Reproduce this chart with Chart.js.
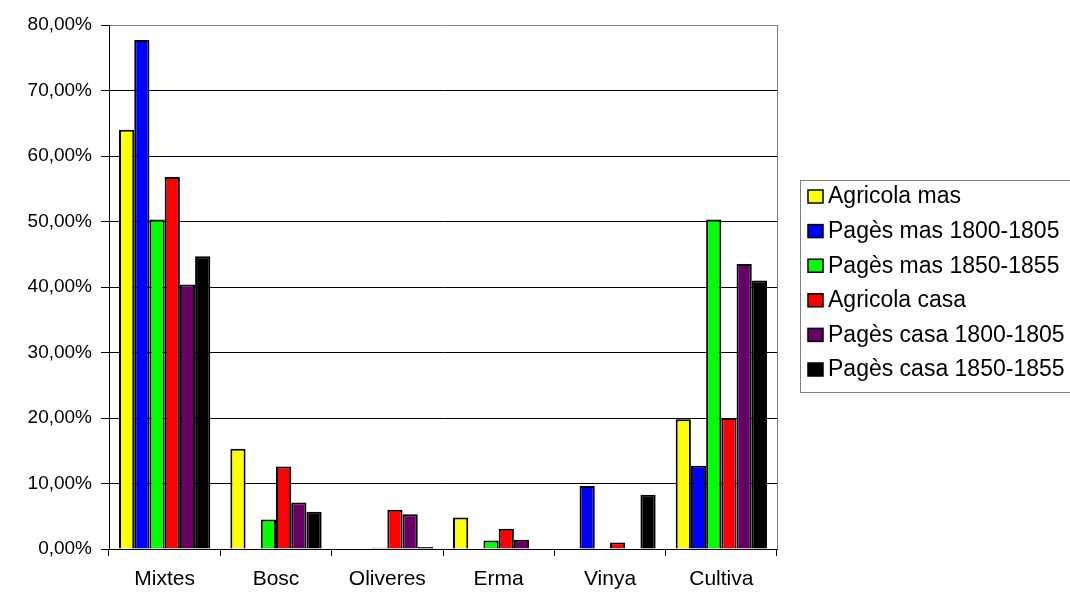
<!DOCTYPE html>
<html>
<head>
<meta charset="utf-8">
<script src="https://cdn.jsdelivr.net/npm/chart.js@4.4.0/dist/chart.umd.min.js"></script>
<style>
  html, body { margin: 0; padding: 0; background: #fff; }
  #wrap { width: 1070px; height: 592px; }
</style>
</head>
<body>
<div id="wrap"><canvas id="chart" width="1070" height="592"></canvas></div>
<script>
// Categories and series (percent values)
const categories = ['Mixtes', 'Bosc', 'Oliveres', 'Erma', 'Vinya', 'Cultiva'];
const seriesNames = ['Agricola mas', 'Pagès mas 1800-1805', 'Pagès mas 1850-1855',
  'Agricola casa', 'Pagès casa 1800-1805', 'Pagès casa 1850-1855'];

const agricolaMas     = [64.0, 15.3, 0,   4.8, 0,   19.8];
const pagesMas1800    = [77.7, 0,    0,   0,   9.6, 12.7];
const pagesMas1850    = [50.3, 4.5,  0.2, 1.3, 0,   50.3];
const agricolaCasa    = [56.8, 12.6, 6.0, 3.1, 1.0, 20.0];
const pagesCasa1800   = [40.4, 7.1,  5.3, 1.4, 0,   43.5];
const pagesCasa1850   = [44.7, 5.7,  0.3, 0,   8.3, 41.0];

const yTicks = [0, 10, 20, 30, 40, 50, 60, 70, 80];

const seriesColors = ['#ffff00', '#0000ff', '#00ff00', '#ff0000', '#660066', '#000000'];
const seriesData = [agricolaMas, pagesMas1800, pagesMas1850, agricolaCasa, pagesCasa1800, pagesCasa1850];

Chart.defaults.font.family = "'Liberation Sans', Arial, sans-serif";
Chart.defaults.color = '#000';

// gray frame on the right side of the plot
const plotFrame = {
  id: 'plotFrame',
  beforeDatasetsDraw(chart) {
    const { ctx, chartArea: a } = chart;
    ctx.save();
    ctx.strokeStyle = '#808080';
    ctx.lineWidth = 1;
    ctx.beginPath();
    ctx.moveTo(Math.round(a.right) + 0.5, a.top);
    ctx.lineTo(Math.round(a.right) + 0.5, a.bottom);
    ctx.stroke();
    ctx.restore();
  }
};

// Excel-style boxed legend
const boxLegend = {
  id: 'boxLegend',
  afterDraw(chart) {
    const { ctx } = chart;
    ctx.save();
    ctx.strokeStyle = '#808080';
    ctx.lineWidth = 1;
    ctx.strokeRect(800.5, 180.5, 300, 212);
    ctx.font = "23px 'Liberation Sans', Arial, sans-serif";
    ctx.textBaseline = 'middle';
    seriesNames.forEach((name, i) => {
      const y = 197 + i * 34.6;
      ctx.fillStyle = seriesColors[i];
      ctx.fillRect(808, y - 7, 15, 13);
      ctx.strokeStyle = '#000';
      ctx.lineWidth = 1.5;
      ctx.strokeRect(808, y - 7, 15, 13);
      ctx.fillStyle = '#000';
      ctx.fillText(name, 828, y);
    });
    ctx.restore();
  }
};

new Chart(document.getElementById('chart'), {
  type: 'bar',
  data: {
    labels: categories,
    datasets: seriesNames.map((name, i) => ({
      label: name,
      data: seriesData[i],
      backgroundColor: seriesColors[i],
      borderColor: '#000',
      borderWidth: 2,
      categoryPercentage: 0.82,
      barPercentage: 1,
    })),
  },
  options: {
    responsive: false,
    animation: false,
    devicePixelRatio: 1,
    layout: { padding: { top: 25, right: 293, left: 0, bottom: 0 } },
    plugins: {
      legend: { display: false },
      tooltip: { enabled: false },
    },
    scales: {
      x: {
        border: { color: '#000', width: 1 },
        grid: { drawOnChartArea: false, tickLength: 7, tickColor: '#000', offset: true },
        ticks: { padding: 11, font: { size: 21 }, color: '#000' },
        afterFit: (s) => { s.height = 43; },
      },
      y: {
        min: 0,
        max: 80,
        afterBuildTicks: (s) => { s.ticks = yTicks.map((v) => ({ value: v })); },
        border: { color: '#000', width: 1 },
        grid: {
          color: (c) => (c.tick && c.tick.value === 80 ? '#808080' : '#000'),
          lineWidth: 1,
          tickLength: 8,
          tickColor: '#000',
        },
        ticks: {
          padding: 9,
          font: { size: 19 },
          color: '#000',
          callback: (v) => v.toFixed(2).replace('.', ',') + '%',
        },
        afterFit: (s) => { s.width = 109; },
      },
    },
  },
  plugins: [plotFrame, boxLegend],
});
</script>
</body>
</html>
